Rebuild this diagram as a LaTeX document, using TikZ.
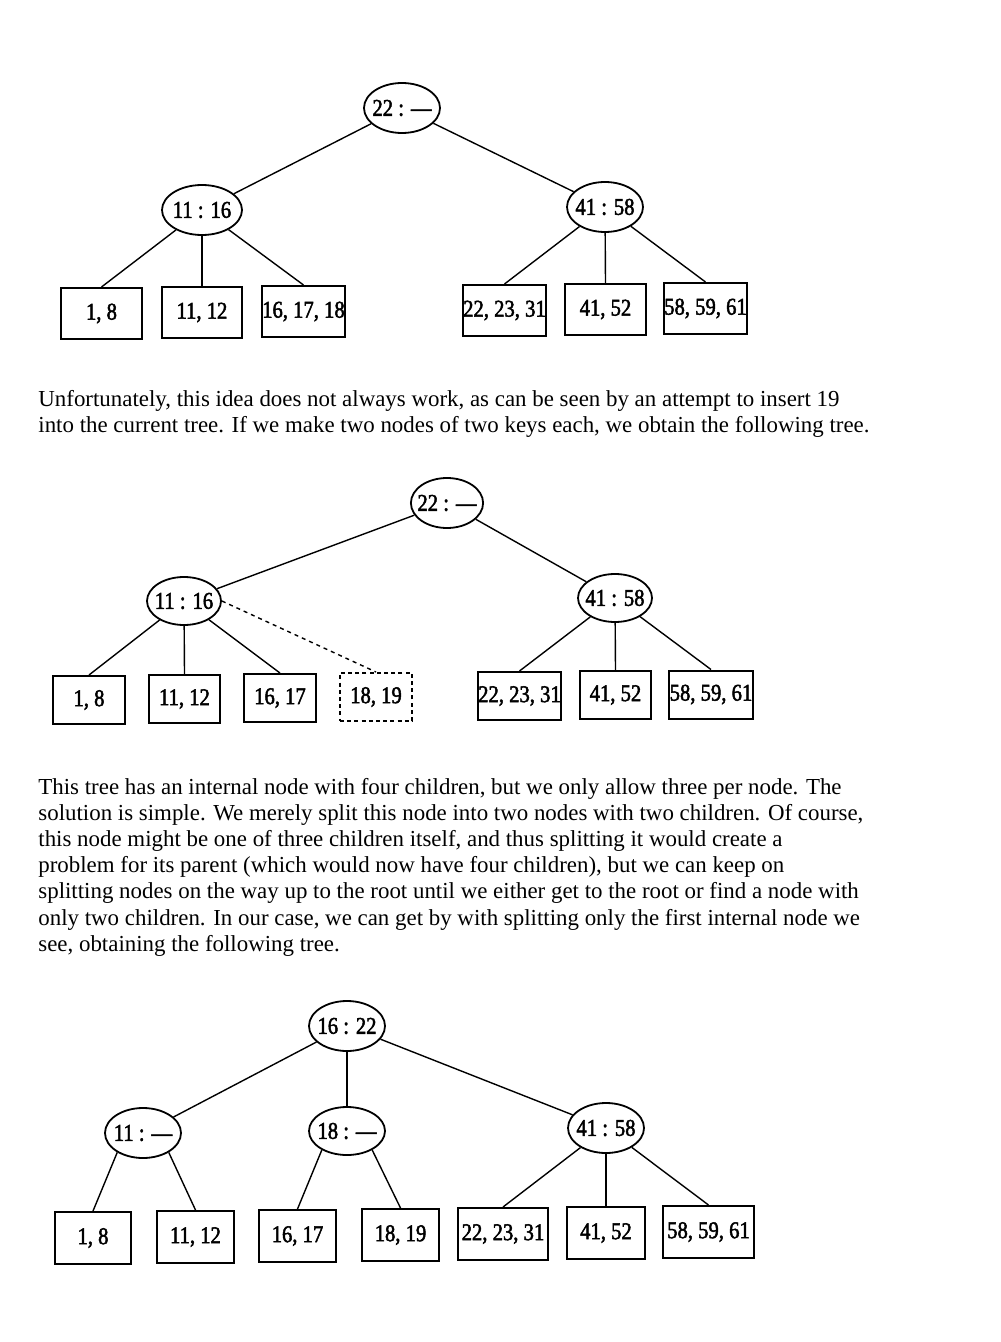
\documentclass[tikz,border=0pt]{standalone}
\usepackage{fontspec}
\setmainfont{Liberation Serif}
\newfontfamily\keyfont{Liberation Serif}[FakeStretch=0.86,FakeBold=2]
\usetikzlibrary{shapes.geometric}

\begin{document}
\begin{tikzpicture}[x=0.5pt,y=-0.5pt,
  keys/.style={font=\keyfont\fontsize{12}{12}\selectfont},
  inner/.style={ellipse, draw, line width=0.9pt, minimum width=38pt,
    minimum height=25pt, inner xsep=-2pt, inner ysep=0pt, keys},
  leaf/.style={rectangle, draw, line width=1pt, inner sep=0pt, keys},
  leafA/.style={leaf, minimum height=25.5pt},
  leafB/.style={leaf, minimum height=24pt},
  leafC/.style={leaf, minimum height=26pt},
  link/.style={line width=0.7pt},
  body/.style={anchor=base west, inner sep=0pt,
    font=\fontsize{11.45}{13}\selectfont}]

\useasboundingbox (0,0) rectangle (1000,1342);

% ---------- first tree ----------
\node[inner] (r1) at (402,108) {22 : —};
\node[inner, minimum width=40pt] (l1) at (202,210) {11 : 16};
\node[inner] (m1) at (605,207) {41 : 58};

\node[leafA, minimum width=40.5pt] (a1) at (101.5,313.5) {1, 8};
\node[leafA, minimum width=40pt]   (a2) at (202,312.5) {11, 12};
\node[leafA, minimum width=41.5pt] (a3) at (303.5,311.5) {16, 17, 18};
\node[leafA, minimum width=41.5pt] (a4) at (504.5,310.5) {22, 23, 31};
\node[leafA, minimum width=40.5pt] (a5) at (605.5,309.5) {41, 52};
\node[leafA, minimum width=41.5pt] (a6) at (705.5,308.5) {58, 59, 61};

\draw[link] (r1) -- (l1);
\draw[link] (r1) -- (m1);
\draw[link] (l1) -- (a1.north);
\draw[link] (l1) -- (a2.north);
\draw[link] (l1) -- (a3.north);
\draw[link] (m1) -- (a4.north);
\draw[link] (m1) -- (a5.north);
\draw[link] (m1) -- (a6.north);

% ---------- first paragraph ----------
\node[body] (p1) at (38,406) {Unfortunately, this idea does not always work, as can be seen by an attempt to insert 19};
\node[body] (p2) at (38,432) {into the current tree. If we make two nodes of two keys each, we obtain the following tree.};

% ---------- second tree ----------
\node[inner, minimum width=36pt] (r2) at (447,503) {22 : —};
\node[inner, minimum width=37pt, minimum height=24pt] (l2) at (184,601) {11 : 16};
\node[inner, minimum width=37pt, minimum height=24pt] (m2) at (615,598) {41 : 58};

\node[leafB, minimum width=36pt]   (b1) at (89,700) {1, 8};
\node[leafB, minimum width=35.5pt] (b2) at (184.5,699) {11, 12};
\node[leafB, minimum width=36pt]   (b3) at (280,698) {16, 17};
\node[leafB, minimum width=36pt, dashed, dash pattern=on 2pt off 1.6pt] (b4) at (376,697) {18, 19};
\node[leafB, minimum width=41.5pt] (b5) at (519.5,696) {22, 23, 31};
\node[leafB, minimum width=35.5pt] (b6) at (615.5,695) {41, 52};
\node[leafB, minimum width=42pt]   (b7) at (711,694.5) {58, 59, 61};

\draw[link] (r2) -- (l2);
\draw[link] (r2) -- (m2);
\draw[link] (l2) -- (b1.north);
\draw[link] (l2) -- (b2.north);
\draw[link] (l2) -- (b3.north);
\draw[link, dashed, dash pattern=on 2pt off 2pt] (l2.east) -- (b4.north);
\draw[link] (m2) -- (b5.north);
\draw[link] (m2) -- (b6.north);
\draw[link] (m2) -- (b7.north);

% ---------- second paragraph ----------
\node[body] (q1) at (38,794) {This tree has an internal node with four children, but we only allow three per node. The};
\node[body] (q2) at (38,820.2) {solution is simple. We merely split this node into two nodes with two children. Of course,};
\node[body] (q3) at (38,846.4) {this node might be one of three children itself, and thus splitting it would create a};
\node[body] (q4) at (38,872.6) {problem for its parent (which would now have four children), but we can keep on};
\node[body] (q5) at (38,898.8) {splitting nodes on the way up to the root until we either get to the root or find a node with};
\node[body] (q6) at (38,925) {only two children. In our case, we can get by with splitting only the first internal node we};
\node[body] (q7) at (38,951.2) {see, obtaining the following tree.};

% ---------- third tree ----------
\node[inner] (r3) at (347,1026) {16 : 22};
\node[inner] (l3) at (143,1133) {11 : —};
\node[inner, minimum height=24pt] (c3) at (347,1131) {18 : —};
\node[inner] (m3) at (606,1128) {41 : 58};

\node[leafC, minimum width=38pt]   (c1) at (93,1238) {1, 8};
\node[leafC, minimum width=38.5pt] (c2) at (195.5,1237) {11, 12};
\node[leafC, minimum width=38.5pt] (cc3) at (297.5,1236) {16, 17};
\node[leafC, minimum width=38.5pt] (c4) at (400.5,1235) {18, 19};
\node[leafC, minimum width=45pt]   (c5) at (503,1234) {22, 23, 31};
\node[leafC, minimum width=39pt]   (c6) at (606,1233) {41, 52};
\node[leafC, minimum width=45.5pt] (c7) at (708.5,1232) {58, 59, 61};

\draw[link] (r3) -- (l3);
\draw[link] (r3) -- (c3);
\draw[link] (r3) -- (m3);
\draw[link] (l3.-143) -- (c1.north);
\draw[link] (l3.-37) -- (c2.north);
\draw[link] (c3.-143) -- (cc3.north);
\draw[link] (c3.-37) -- (c4.north);
\draw[link] (m3) -- (c5.north);
\draw[link] (m3) -- (c6.north);
\draw[link] (m3) -- (c7.north);
\end{tikzpicture}
\end{document}
